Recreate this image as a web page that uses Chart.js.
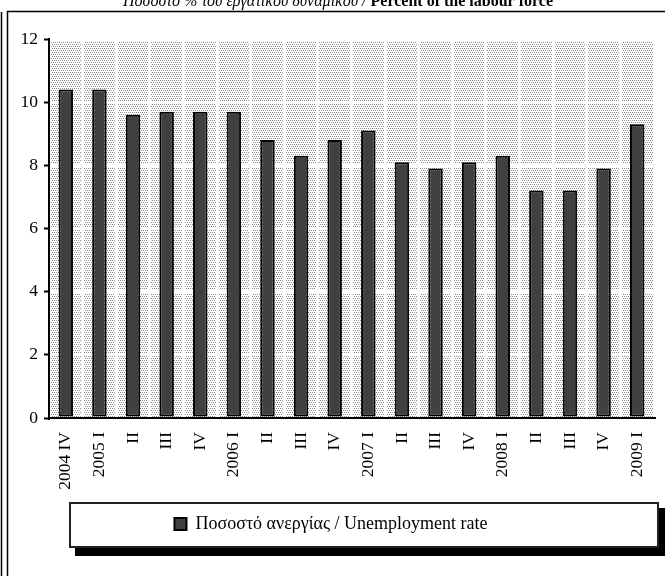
<!DOCTYPE html>
<html>
<head>
<meta charset="utf-8">
<script src="https://cdn.jsdelivr.net/npm/chart.js@4"></script>
<style>
  body { margin: 0; background: #fff; }
  #wrap { width: 665px; height: 576px; }
</style>
</head>
<body>
<div id="wrap"><canvas id="rateChart" width="665" height="576"></canvas></div>
<script>
// quarters and unemployment rate (%)
const quarters = ['2004 IV', '2005 I', 'II', 'III', 'IV', '2006 I', 'II', 'III', 'IV',
    '2007 I', 'II', 'III', 'IV', '2008 I', 'II', 'III', 'IV', '2009 I'];
const unemploymentRate = [10.4, 10.4, 9.6, 9.7, 9.7, 9.7, 8.8, 8.3, 8.8,
    9.1, 8.1, 7.9, 8.1, 8.3, 7.2, 7.2, 7.9, 9.3];
const yTicks = [0, 2, 4, 6, 8, 10, 12];

const seriesLabel = 'Ποσοστό ανεργίας / Unemployment rate';
const titleGr = 'Ποσοστό % του εργατικού δυναμικού / ';
const titleEn = 'Percent of the labour force';
const serif = '"Liberation Serif", "DejaVu Serif", serif';

// dotted fill for the plot background
function makeDots() {
    const c = document.createElement('canvas');
    c.width = 4; c.height = 4;
    const g = c.getContext('2d');
    g.fillStyle = '#fff';
    g.fillRect(0, 0, 4, 4);
    g.fillStyle = '#8c8c8c';
    g.fillRect(0, 0, 1, 1);
    g.fillRect(2, 0, 1, 1);
    g.fillRect(1, 2, 1, 1);
    g.fillRect(3, 2, 1, 1);
    return c;
}

const framePlugin = {
    id: 'frame',
    beforeDraw(chart) {
        const ctx = chart.ctx;
        const a = chart.chartArea;
        ctx.save();
        // outer frame lines
        ctx.strokeStyle = '#000';
        ctx.lineWidth = 1.5;
        ctx.beginPath();
        ctx.moveTo(1.5, 12); ctx.lineTo(1.5, 576);
        ctx.moveTo(7.5, 576); ctx.lineTo(7.5, 11.5); ctx.lineTo(665, 11.5);
        ctx.stroke();
        // plot background
        ctx.fillStyle = ctx.createPattern(makeDots(), 'repeat');
        ctx.fillRect(a.left, a.top, a.right - a.left, a.bottom - a.top);
        // legend box with shadow
        ctx.fillStyle = '#000';
        ctx.fillRect(75, 508, 590, 48);
        ctx.fillStyle = '#fff';
        ctx.fillRect(69, 502, 590, 46);
        ctx.strokeStyle = '#222';
        ctx.lineWidth = 2;
        ctx.strokeRect(70, 503, 588, 44);
        // title, cut off at the top
        ctx.fillStyle = '#000';
        ctx.textBaseline = 'alphabetic';
        ctx.font = 'italic 16px ' + serif;
        const w1 = ctx.measureText(titleGr).width;
        ctx.font = 'bold 16px ' + serif;
        const w2 = ctx.measureText(titleEn).width;
        let x = 338 - (w1 + w2) / 2;
        ctx.font = 'italic 16px ' + serif;
        ctx.fillText(titleGr, x, 6);
        ctx.font = 'bold 16px ' + serif;
        ctx.fillText(titleEn, x + w1, 6);
        ctx.restore();
    }
};

const ctx = document.getElementById('rateChart').getContext('2d');
new Chart(ctx, {
    type: 'bar',
    data: {
        labels: quarters,
        datasets: [{
            label: seriesLabel,
            data: unemploymentRate,
            backgroundColor: '#404040',
            borderColor: '#000',
            borderWidth: 2,
            borderSkipped: false,
            categoryPercentage: 1,
            barPercentage: 0.43
        }]
    },
    options: {
        responsive: false,
        animation: false,
        layout: { padding: { left: 8, top: 39, right: 11, bottom: 33 } },
        plugins: {
            tooltip: { enabled: false },
            legend: {
                position: 'bottom',
                labels: {
                    color: '#000',
                    font: { family: serif, size: 18 },
                    boxWidth: 12,
                    boxHeight: 12,
                    padding: 9
                }
            }
        },
        scales: {
            x: {
                afterFit: s => { s.height = 88; s.paddingLeft = 0; s.paddingRight = 0; },
                grid: { color: '#fff', lineWidth: 3, drawTicks: false },
                border: { color: '#000', width: 2 },
                ticks: {
                    color: '#000',
                    font: { family: serif, size: 17.5 },
                    minRotation: 90,
                    maxRotation: 90,
                    padding: 14,
                    autoSkip: false
                }
            },
            y: {
                min: 0,
                max: 12,
                afterFit: s => { s.width = 41; s.paddingTop = 0; s.paddingBottom = 0; },
                afterBuildTicks: s => { s.ticks = yTicks.map(v => ({ value: v })); },
                grid: { color: '#fff', lineWidth: 3, tickColor: '#000', tickWidth: 2, tickLength: 5 },
                border: { color: '#000', width: 2 },
                ticks: {
                    color: '#000',
                    font: { family: serif, size: 17.5 },
                    padding: 6
                }
            }
        }
    },
    plugins: [framePlugin]
});
</script>
</body>
</html>
